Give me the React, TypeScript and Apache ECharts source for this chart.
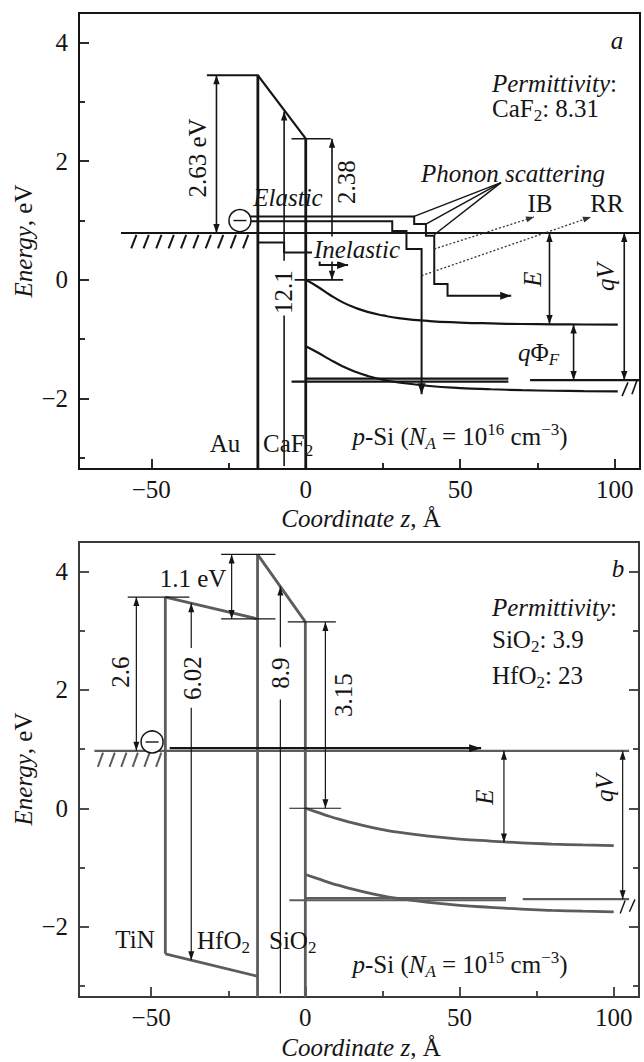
import React, { useEffect, useRef } from "react";
import * as echarts from "echarts";

const F = "Liberation Serif";

// ---------- axes ----------
const xRange = [-73.4, 108.2];
const yRange = [-3.19, 4.5];
const xTicksMajor = [-50, 0, 50, 100];
const xTicksMinor = [-25, 25, 75];
const yTicksMajor = [-2, 0, 2, 4];
const yTicksMinor = [-3, -1, 1, 3];

// ---------- panel a (Au / CaF2 / p-Si) ----------
const siZa = [0, 4, 8, 12, 16, 20, 25, 30, 40, 50, 60, 70, 80, 90, 101];
const aCB = [0, -0.12, -0.26, -0.38, -0.47, -0.54, -0.6, -0.645, -0.695, -0.72, -0.735, -0.745, -0.75, -0.753, -0.755];
const aVB = [-1.12, -1.23, -1.35, -1.46, -1.55, -1.62, -1.685, -1.73, -1.79, -1.825, -1.845, -1.86, -1.87, -1.877, -1.882];

const aMetalFermi = [[-59.8, 0.79], [108.2, 0.79]];
const aCaF2CB = [[-32, 3.45], [-15.5, 3.45], [0, 2.38]];
const aIfaceAu = [[-15.5, 3.45], [-15.5, -3.19]];
const aIfaceSi = [[0, 2.38], [0, -3.19]];
const aDim263 = [[-28.9, 0.79], [-28.9, 3.45]];
const aExt238Top = [[-4.6, 2.38], [8.1, 2.38]];
const aExt238Bot = [[-3.6, 0], [12.1, 0]];
const aDim238 = [[8.5, 0], [8.5, 2.38]];
const aDim121Low = [[-7, -3.14], [-7, -0.6]];
const aDim121High = [[-7, 0.32], [-7, 2.84]];
const aPathElastic = [[-18, 1.07], [35.1, 1.07], [35.1, 0.94], [38.9, 0.94], [38.9, 0.745], [41.6, 0.745], [41.6, -0.07], [45.9, -0.07], [45.9, -0.27], [66.5, -0.27]];
const aPathDeep = [[-18, 0.99], [28.0, 0.99], [28.0, 0.825], [32.6, 0.825], [32.6, 0.52], [37.5, 0.52], [37.5, -1.93]];
const aPathInelastic = [[-15.5, 0.63], [-7, 0.63], [-7, 0.46], [4.5, 0.46], [4.5, 0.25], [13.7, 0.25]];
const aPhononFrom = [63.2, 1.64];
const aPhononTo = [[35.1, 1.07], [38.9, 0.94], [41.6, 0.76]];
const aIB = [[41.6, 0.52], [73.9, 1.06]];
const aRR = [[37.5, 0.07], [92.3, 1.06]];
const aSiFermiUpper = [[0, -1.665], [65.6, -1.665]];
const aSiFermiLower = [[-4.6, -1.715], [65.6, -1.715]];
const aSiFermiRight = [[72.6, -1.69], [108.2, -1.69]];
const aDimE = [[78.9, 0.79], [78.9, -0.745]];
const aDimPhiF = [[86.7, -0.755], [86.7, -1.69]];
const aDimQV = [[103.1, 0.79], [103.1, -1.69]];
const aBreaks = [[[102.4, -1.96], [104.3, -1.73]], [[105.6, -1.93], [107.2, -1.7]]];
const aHatchZ = [-56.5, -52.5, -48.4, -44.4, -40.4, -36.4, -32.4, -28.4, -24.3, -20.3];
const aHatchE = [0.53, 0.76];
const aElectron = [-21.3, 1.0];

// ---------- panel b (TiN / HfO2 / SiO2 / p-Si) ----------
const siZb = [0, 4, 8, 12, 16, 20, 25, 30, 40, 50, 60, 70, 80, 90, 100];
const bCB = [0, -0.07, -0.14, -0.2, -0.255, -0.305, -0.36, -0.405, -0.47, -0.52, -0.555, -0.585, -0.605, -0.62, -0.63];
const bVB = [-1.12, -1.19, -1.26, -1.32, -1.375, -1.425, -1.48, -1.525, -1.59, -1.64, -1.675, -1.705, -1.725, -1.74, -1.75];

const bTiNFermi = [[-68.4, 0.97], [105, 0.97]];
const bTransport = [[-44, 1.015], [57, 1.015]];
const bIfaceTiN = [[-45.4, 3.57], [-45.4, -2.46]];
const bHfO2CB = [[-45.4, 3.57], [-15.5, 3.2]];
const bHfO2VB = [[-45.4, -2.46], [-15.5, -2.84]];
const bIfaceHf = [[-15.5, 4.29], [-15.5, -3.19]];
const bSiO2CB = [[-15.5, 4.29], [0, 3.15]];
const bIfaceSi = [[0, 3.15], [0, -3.19]];
const bExt26 = [[-57.6, 3.57], [-37.6, 3.57]];
const bDim26 = [[-54.8, 0.97], [-54.8, 3.57]];
const bDim602Low = [[-37, 1.7], [-37, -2.567]];
const bDim602High = [[-37, 2.71], [-37, 3.466]];
const bExt11Top = [[-27.3, 4.29], [-9.7, 4.29]];
const bExt11Bot = [[-27.3, 3.2], [-9.7, 3.2]];
const bDim11 = [[-23.9, 3.2], [-23.9, 4.29]];
const bDim89Low = [[-8.1, -3.13], [-8.1, 1.84]];
const bDim89High = [[-8.1, 2.72], [-8.1, 3.75]];
const bExt315Top = [[-5.7, 3.15], [9.9, 3.15]];
const bExt315Bot = [[-5.2, 0], [11.6, 0]];
const bDim315 = [[6.5, 0], [6.5, 3.15]];
const bSiFermiUpper = [[0, -1.52], [65.1, -1.52]];
const bSiFermiLower = [[-5.2, -1.555], [65.1, -1.555]];
const bSiFermiRight = [[70.5, -1.537], [105, -1.537]];
const bDimE = [[64.4, 0.97], [64.4, -0.58]];
const bDimQV = [[102.9, 0.97], [102.9, -1.537]];
const bBreaks = [[[102.1, -1.78], [103.7, -1.56]], [[105.1, -1.75], [106.9, -1.54]]];
const bHatchZ = [-67.3, -63.5, -59.7, -56.0, -52.2, -48.4];
const bHatchE = [0.7, 0.94];
const bElectron = [-49.7, 1.12];

// ---------- styles ----------
const INK = "#151515";
const GRAY = "#5c5c5c";
const FRAME_B = "#3a3a3a";
const S_BAND_A = { color: INK, width: 2.2 };
const S_IFACE_A = { color: INK, width: 2.8 };
const S_DIM_A = { color: INK, width: 1.6, hl: 9, hw: 3.2 };
const S_PATH_A = { color: INK, width: 2, hl: 11, hw: 4 };
const S_BAND_B = { color: GRAY, width: 2.8 };
const S_DIM_B = { color: INK, width: 1.2, hl: 9, hw: 3 };

function seg(pts: any, st: any, arrow = "", dash: any = null) {
  return { pts, color: st.color, width: st.width, hl: st.hl || 9, hw: st.hw || 3.2, arrow, dash };
}

function head(tip: number[], from: number[], L: number, W: number) {
  const dx = tip[0] - from[0];
  const dy = tip[1] - from[1];
  const len = Math.hypot(dx, dy) || 1;
  const ux = dx / len;
  const uy = dy / len;
  const bx = tip[0] - ux * L;
  const by = tip[1] - uy * L;
  return [
    [tip[0], tip[1]],
    [bx - uy * W, by + ux * W],
    [bx + uy * W, by - ux * W],
  ];
}

function customSeries(specs: any[], xi: number, yi: number) {
  return {
    type: "custom",
    xAxisIndex: xi,
    yAxisIndex: yi,
    clip: false,
    z: 4,
    silent: true,
    data: specs.map((s) => (s.electron ? s.electron : s.pts[0])),
    renderItem: (params: any, api: any) => {
      const s = specs[params.dataIndex];
      if (s.electron) {
        const c = api.coord(s.electron);
        return {
          type: "group",
          children: [
            { type: "circle", shape: { cx: c[0], cy: c[1], r: 11 }, style: { fill: "#fff", stroke: INK, lineWidth: 1.5 } },
            { type: "line", shape: { x1: c[0] - 6.5, y1: c[1], x2: c[0] + 6.5, y2: c[1] }, style: { stroke: INK, lineWidth: 1.4 } },
          ],
        };
      }
      const p = s.pts.map((q: number[]) => api.coord(q));
      const children: any[] = [
        {
          type: "polyline",
          shape: { points: p },
          style: { stroke: s.color, lineWidth: s.width, fill: null, lineDash: s.dash, lineJoin: "miter" },
        },
      ];
      const n = p.length;
      if (s.arrow === "end" || s.arrow === "both") {
        children.push({ type: "polygon", shape: { points: head(p[n - 1], p[n - 2], s.hl, s.hw) }, style: { fill: s.color } });
      }
      if (s.arrow === "start" || s.arrow === "both") {
        children.push({ type: "polygon", shape: { points: head(p[0], p[1], s.hl, s.hw) }, style: { fill: s.color } });
      }
      return { type: "group", children };
    },
  };
}

function hatch(zs: number[], e: number[], st: any) {
  return zs.map((z) => seg([[z, e[0]], [z + 1.7, e[1]]], st));
}

const specsA = [
  seg(aMetalFermi, S_BAND_A),
  seg(aCaF2CB, S_BAND_A),
  seg(aIfaceAu, S_IFACE_A),
  seg(aIfaceSi, S_IFACE_A),
  seg(aDim263, S_DIM_A, "both"),
  seg(aExt238Top, S_DIM_A),
  seg(aExt238Bot, S_DIM_A),
  seg(aDim238, S_DIM_A, "both"),
  seg(aDim121Low, S_DIM_A),
  seg(aDim121High, S_DIM_A, "end"),
  seg(aPathElastic, S_PATH_A, "end"),
  seg(aPathDeep, S_PATH_A, "end"),
  seg(aPathInelastic, S_PATH_A, "end"),
  ...aPhononTo.map((t) => seg([aPhononFrom, t], { color: INK, width: 1.5 })),
  seg(aIB, { color: "#333", width: 1.3, hl: 8, hw: 3 }, "end", [2, 2]),
  seg(aRR, { color: "#333", width: 1.3, hl: 8, hw: 3 }, "end", [2, 2]),
  seg(aSiFermiUpper, S_BAND_A),
  seg(aSiFermiLower, S_BAND_A),
  seg(aSiFermiRight, S_BAND_A),
  seg(aDimE, S_DIM_A, "both"),
  seg(aDimPhiF, S_DIM_A, "both"),
  seg(aDimQV, S_DIM_A, "both"),
  ...aBreaks.map((b) => seg(b, S_DIM_A)),
  ...hatch(aHatchZ, aHatchE, { color: INK, width: 2 }),
  { electron: aElectron },
];

const specsB = [
  seg(bTiNFermi, { color: GRAY, width: 2.2 }),
  seg(bIfaceTiN, S_BAND_B),
  seg(bHfO2CB, S_BAND_B),
  seg(bHfO2VB, S_BAND_B),
  seg(bIfaceHf, S_BAND_B),
  seg(bSiO2CB, S_BAND_B),
  seg(bIfaceSi, S_BAND_B),
  seg(bExt26, S_DIM_B),
  seg(bDim26, S_DIM_B, "both"),
  seg(bDim602Low, S_DIM_B, "end"),
  seg(bDim602High, S_DIM_B, "end"),
  seg(bExt11Top, S_DIM_B),
  seg(bExt11Bot, S_DIM_B),
  seg(bDim11, S_DIM_B, "both"),
  seg(bDim89Low, S_DIM_B),
  seg(bDim89High, S_DIM_B, "end"),
  seg(bExt315Top, S_DIM_B),
  seg(bExt315Bot, S_DIM_B),
  seg(bDim315, S_DIM_B, "both"),
  seg(bSiFermiUpper, { color: GRAY, width: 2.2 }),
  seg(bSiFermiLower, { color: GRAY, width: 2.2 }),
  seg(bSiFermiRight, { color: GRAY, width: 2.2 }),
  seg(bDimE, S_DIM_B, "both"),
  seg(bDimQV, S_DIM_B, "both"),
  ...bBreaks.map((b) => seg(b, { color: INK, width: 1.4 })),
  ...hatch(bHatchZ, bHatchE, { color: GRAY, width: 2 }),
  seg(bTransport, { color: INK, width: 2.2, hl: 12, hw: 4 }, "end"),
  { electron: bElectron },
];

// ---------- text ----------
const RICH = {
  n: { fontFamily: F, fontSize: 25, fill: INK },
  i: { fontFamily: F, fontSize: 25, fontStyle: "italic", fill: INK },
  sub: { fontFamily: F, fontSize: 17, fill: INK, padding: [14, 0, 0, 0] },
  isub: { fontFamily: F, fontSize: 17, fontStyle: "italic", fill: INK, padding: [14, 0, 0, 0] },
  sup: { fontFamily: F, fontSize: 17, fill: INK, padding: [0, 0, 14, 0] },
};

function T(x: number, y: number, text: string, align = "center", extra: any = {}) {
  return {
    type: "text",
    x,
    y,
    z: 100,
    silent: true,
    style: { text, rich: RICH, align, verticalAlign: "middle", fontFamily: F, fontSize: 25, fill: INK, ...extra },
  };
}
function R(x: number, y: number, text: string, extra: any = {}) {
  return { ...T(x, y, text, "center", extra), rotation: Math.PI / 2 };
}

const texts = [
  // panel a
  T(617, 40, "{i|a}"),
  T(492, 83, "{i|Permittivity}{n|:}", "left"),
  T(492, 108, "{n|CaF}{sub|2}{n|: 8.31}", "left"),
  T(513, 173, "{i|Phonon scattering}"),
  T(540, 203, "{n|IB}"),
  T(607, 203, "{n|RR}"),
  T(288, 197, "{i|Elastic}"),
  T(357, 249, "{i|Inelastic}", "center", { backgroundColor: "#fff", padding: [0, 2, 0, 2] }),
  R(197, 158, "{n|2.63 eV}"),
  R(346, 182, "{n|2.38}"),
  R(283, 292, "{n|12.1}"),
  R(532, 279, "{i|E}"),
  R(605, 277, "{i|qV}"),
  T(518, 352, "{i|q}{n|Φ}{isub|F}", "left"),
  T(225, 443, "{n|Au}"),
  T(263, 443, "{n|CaF}{sub|2}", "left"),
  T(460, 436, "{i|p}{n|-Si (}{i|N}{isub|A}{n| = 10}{sup|16}{n| cm}{sup|−3}{n|)}"),
  R(23, 241, "{i|Energy}{n|, eV}"),
  T(361, 518, "{i|Coordinate z}{n|, Å}"),
  // panel b
  T(618, 568, "{i|b}"),
  T(492, 607, "{i|Permittivity}{n|:}", "left"),
  T(492, 639, "{n|SiO}{sub|2}{n|: 3.9}", "left"),
  T(492, 675, "{n|HfO}{sub|2}{n|: 23}", "left"),
  T(193, 578, "{n|1.1 eV}"),
  R(120, 672, "{n|2.6}"),
  R(192, 678, "{n|6.02}"),
  R(280, 673, "{n|8.9}"),
  R(343, 695, "{n|3.15}"),
  R(484, 797, "{i|E}"),
  R(604, 788, "{i|qV}"),
  T(135, 939, "{n|TiN}"),
  T(197, 940, "{n|HfO}{sub|2}", "left"),
  T(269, 940, "{n|SiO}{sub|2}", "left"),
  T(460, 964, "{i|p}{n|-Si (}{i|N}{isub|A}{n| = 10}{sup|15}{n| cm}{sup|−3}{n|)}"),
  R(23, 769, "{i|Energy}{n|, eV}"),
  T(361, 1047, "{i|Coordinate z}{n|, Å}"),
];

const fmt = (v: number) => (v < 0 ? "\u2212" + Math.abs(v) : String(v));

function xAxes(grid: number, color: string) {
  const base = { gridIndex: grid, type: "value", min: xRange[0], max: xRange[1], position: "bottom", axisLine: { show: false, onZero: false }, splitLine: { show: false } };
  return [
    {
      ...base,
      axisTick: { inside: true, length: 10, customValues: xTicksMajor, lineStyle: { color, width: 1.8 } },
      axisLabel: { customValues: xTicksMajor, formatter: fmt, margin: 8, fontFamily: F, fontSize: 25, color: INK },
    },
    {
      ...base,
      axisTick: { inside: true, length: 6, customValues: xTicksMinor, lineStyle: { color, width: 1.8 } },
      axisLabel: { show: false },
    },
  ];
}
function yAxes(grid: number, color: string, position: string, labels: boolean) {
  const base = { gridIndex: grid, type: "value", min: yRange[0], max: yRange[1], position, axisLine: { show: false, onZero: false }, splitLine: { show: false } };
  return [
    {
      ...base,
      axisTick: { inside: true, length: 10, customValues: yTicksMajor, lineStyle: { color, width: 1.8 } },
      axisLabel: labels
        ? { customValues: yTicksMajor, formatter: fmt, margin: 11, fontFamily: F, fontSize: 25, color: INK }
        : { show: false },
    },
    {
      ...base,
      axisTick: { inside: true, length: 6, customValues: yTicksMinor, lineStyle: { color, width: 1.8 } },
      axisLabel: { show: false },
    },
  ];
}

function curve(z: number[], e: number[], xi: number, yi: number, st: any) {
  return {
    type: "line",
    xAxisIndex: xi,
    yAxisIndex: yi,
    data: z.map((v, i) => [v, e[i]]),
    smooth: 0.5,
    symbol: "none",
    silent: true,
    z: 3,
    lineStyle: { color: st.color, width: st.width },
  };
}

function buildOption() {
  return {
    animation: false,
    backgroundColor: "#fff",
    grid: [
      { left: 79, top: 13, width: 561, height: 456, show: true, borderColor: INK, borderWidth: 2, backgroundColor: "transparent" },
      { left: 79, top: 542, width: 560, height: 455, show: true, borderColor: FRAME_B, borderWidth: 2, backgroundColor: "transparent" },
    ],
    xAxis: [...xAxes(0, INK), ...xAxes(1, FRAME_B)],
    yAxis: [...yAxes(0, INK, "left", true), ...yAxes(1, FRAME_B, "left", true), ...yAxes(1, FRAME_B, "right", false)],
    series: [
      curve(siZa, aCB, 0, 0, S_BAND_A),
      curve(siZa, aVB, 0, 0, S_BAND_A),
      curve(siZb, bCB, 2, 2, S_BAND_B),
      curve(siZb, bVB, 2, 2, S_BAND_B),
      customSeries(specsA, 0, 0),
      customSeries(specsB, 2, 2),
    ],
    graphic: texts,
  };
}

export default function App() {
  const ref = useRef<HTMLDivElement>(null);
  useEffect(() => {
    document.body.style.margin = "0";
    const chart = echarts.init(ref.current as HTMLDivElement, null, { renderer: "svg" });
    chart.setOption(buildOption() as any);
    return () => chart.dispose();
  }, []);
  return <div ref={ref} style={{ width: 644, height: 1062 }} />;
}
